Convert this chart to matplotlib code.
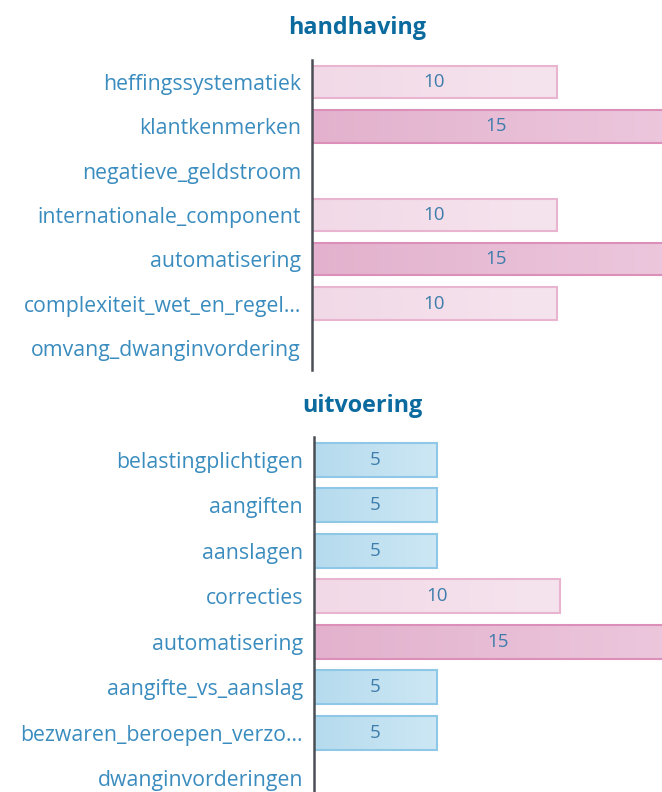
import numpy as np
import matplotlib

matplotlib.use("Agg")
import matplotlib.pyplot as plt
from matplotlib.colors import LinearSegmentedColormap

plt.rcParams["font.family"] = ["Open Sans", "DejaVu Sans"]

# --- data ---
handhaving_labels = [
    "heffingssystematiek",
    "klantkenmerken",
    "negatieve_geldstroom",
    "internationale_component",
    "automatisering",
    "complexiteit_wet_en_regel...",
    "omvang_dwanginvordering",
]
handhaving_values = [10, 15, None, 10, 15, 10, None]

uitvoering_labels = [
    "belastingplichtigen",
    "aangiften",
    "aanslagen",
    "correcties",
    "automatisering",
    "aangifte_vs_aanslag",
    "bezwaren_beroepen_verzo...",
    "dwanginvorderingen",
]
uitvoering_values = [5, 5, 5, 10, 15, 5, 5, None]

# value -> (gradient left, gradient right, edge)
STYLES = {
    5: ("#b5dbee", "#cde7f4", "#8fc7e6"),
    10: ("#f2d9e7", "#f5e4ee", "#e8b4d0"),
    15: ("#e3b1cd", "#ecc8dd", "#db8fb9"),
}
LABEL_COLOR = "#3a8cbf"
TITLE_COLOR = "#0b6a9e"
VALUE_COLOR = "#3e7dab"


def draw_panel(ax, labels, values, xmax, bar_h):
    y = np.arange(len(labels))
    for yi, v in zip(y, values):
        if v is None:
            continue
        c0, c1, ec = STYLES[v]
        cmap = LinearSegmentedColormap.from_list("g", [c0, c1])
        bar = ax.barh(yi, v, height=bar_h, color="none", edgecolor=ec,
                      linewidth=1.5, zorder=3)[0]
        grad = np.linspace(0, 1, 256).reshape(1, -1)
        im = ax.imshow(grad, cmap=cmap, aspect="auto", zorder=2,
                       extent=(0, v, yi + bar_h / 2, yi - bar_h / 2))
        im.set_clip_path(bar)
        ax.text(v / 2, yi, str(v), ha="center", va="center",
                color=VALUE_COLOR, fontsize=13.5, zorder=4)
    ax.set_xlim(0, xmax)
    ax.set_ylim(len(labels) - 0.5, -0.5)
    ax.set_yticks(y)
    ax.set_yticklabels(labels, color=LABEL_COLOR, fontsize=15.3)
    ax.tick_params(axis="y", length=0, pad=8)
    ax.set_xticks([])
    for s in ["top", "right", "bottom"]:
        ax.spines[s].set_visible(False)
    ax.spines["left"].set_color("#4a4f55")
    ax.spines["left"].set_linewidth(1.8)
    ax.spines["left"].set_zorder(5)


fig = plt.figure(figsize=(6.62, 7.92), dpi=100)

ax1 = fig.add_axes([312 / 662, 1 - 370 / 792, 350 / 662, 310 / 792])
draw_panel(ax1, handhaving_labels, handhaving_values, 14.29, 0.73)

ax2 = fig.add_axes([314 / 662, 1 - 801 / 792, 348 / 662, 364 / 792])
draw_panel(ax2, uitvoering_labels, uitvoering_values, 14.15, 0.75)

fig.text(357 / 662, 1 - 28 / 792, "handhaving", ha="center", va="center",
         color=TITLE_COLOR, fontsize=16.8, fontweight="bold")
fig.text(362 / 662, 1 - 406 / 792, "uitvoering", ha="center", va="center",
         color=TITLE_COLOR, fontsize=16.8, fontweight="bold")

fig.savefig("out.png", dpi=100)
